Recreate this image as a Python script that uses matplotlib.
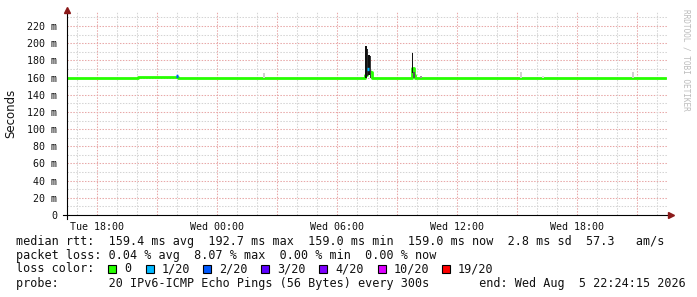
import matplotlib
matplotlib.use('Agg')
import matplotlib.pyplot as plt
from matplotlib.patches import Rectangle
from matplotlib.ticker import FixedLocator
import numpy as np

# hours relative to Tue 18:00
med_t = [-1.5, 2.05, 3.95, 4.05, 13.42, 13.50, 13.58, 13.67, 13.75, 15.75, 15.83, 15.92, 28.4]
med_ms = [159.0, 160.8, 161.2, 159.0, 163.0, 170.0, 168.0, 166.0, 159.0, 171.0, 163.0, 159.0, 159.0]

# median points with loss (coloured)
lossy_t = [3.95, 13.50]
lossy_ms = [161.4, 170.0]
lossy_col = ['#0059ff', '#00b8ff']

# smoke (min..max of pings)
smoke_t = [8.30, 13.40, 13.48, 13.56, 13.64, 15.73, 15.81, 16.17, 21.15, 22.25, 26.75]
smoke_lo = [159, 160, 162, 163, 160, 165, 160, 159, 159, 159, 159]
smoke_hi = [165, 197, 193, 186, 185, 188, 166, 162, 167, 162, 166]
smoke_col = ['#d0d0d0', '#111111', '#2a2a2a', '#111111', '#3a3a3a', '#111111',
             '#555555', '#999999', '#d0d0d0', '#dddddd', '#d0d0d0']

xtick_pos = [0, 6, 12, 18, 24]
xtick_lab = ['Tue 18:00', 'Wed 00:00', 'Wed 06:00', 'Wed 12:00', 'Wed 18:00']
ytick_pos = list(range(0, 221, 20))

loss_labels = ['0', '1/20', '2/20', '3/20', '4/20', '10/20', '19/20']
loss_colors = ['#26ff00', '#00b8ff', '#0059ff', '#5e00ff', '#7e00ff', '#dd00ff', '#ff0000']
loss_sq_x = [108, 146, 203, 261, 319, 378, 442]

line1 = 'median rtt:  159.4 ms avg  192.7 ms max  159.0 ms min  159.0 ms now  2.8 ms sd  57.3   am/s'
line2 = 'packet loss: 0.04 % avg  8.07 % max  0.00 % min  0.00 % now'
line4 = 'probe:       20 IPv6-ICMP Echo Pings (56 Bytes) every 300s       end: Wed Aug  5 22:24:15 2026'

W, H = 697, 297
fig = plt.figure(figsize=(W / 100, H / 100), dpi=100)
fig.patch.set_facecolor('white')
ax = fig.add_axes([67 / W, (H - 215) / H, 600 / W, 203 / H])
ax.set_xlim(-1.5, 28.5)
ax.set_ylim(0, 236.3)

mono = 'DejaVu Sans Mono'
pink = '#e8a8a8'
grey = '#d4d4d4'

# grid
for v in np.arange(10, 236, 20):
    ax.axhline(v, color=grey, lw=0.75, ls=(0, (1.4, 1.4)), zorder=0)
for v in ytick_pos[1:]:
    ax.axhline(v, color=pink, lw=0.75, ls=(0, (1.4, 1.4)), zorder=0)
for h in range(-1, 29):
    c = pink if h % 3 == 0 else grey
    ax.axvline(h, color=c, lw=0.75, ls=(0, (1.4, 1.4)), zorder=0)

# median
ax.step(med_t, med_ms, where='post', color='#26ff00', lw=2.0, zorder=2)
ax.hlines(lossy_ms, lossy_t, np.array(lossy_t) + 5 / 60, colors=lossy_col, lw=2.4, zorder=4)

# smoke
ax.bar(smoke_t, np.array(smoke_hi) - np.array(smoke_lo), bottom=smoke_lo,
       width=5 / 60, align='edge', color=smoke_col, lw=0, zorder=3)

for s in ax.spines.values():
    s.set_visible(False)

ax.xaxis.set_major_locator(FixedLocator(xtick_pos))
ax.set_xticklabels(xtick_lab)
ax.yaxis.set_major_locator(FixedLocator(ytick_pos))
ax.set_yticklabels(['0'] + ['%d m' % v for v in ytick_pos[1:]])
ax.tick_params(axis='both', length=0, labelsize=7.2, labelcolor='#111111')
ax.tick_params(axis='x', pad=5)
ax.tick_params(axis='y', pad=7)
for lab in ax.get_xticklabels() + ax.get_yticklabels():
    lab.set_family(mono)

# axes lines with arrows
ax.plot([-4 / 600, 1.004], [0, 0], color='black', lw=0.8, transform=ax.transAxes, clip_on=False, zorder=5)
ax.plot([0, 0], [-4 / 203, 1.01], color='black', lw=0.8, transform=ax.transAxes, clip_on=False, zorder=5)
ax.plot([1.007], [0], marker='>', ms=4, color='#8b1a1a', transform=ax.transAxes, clip_on=False, zorder=6)
ax.plot([0], [1.012], marker='^', ms=4, color='#8b1a1a', transform=ax.transAxes, clip_on=False, zorder=6)

fig.text(11 / W, 1 - 113 / H, 'Seconds', rotation=90, ha='center', va='center',
         fontsize=8.5, family='DejaVu Sans', color='#111111')
fig.text(686 / W, 1 - 60 / H, 'RRDTOOL / TOBI OETIKER', rotation=270, ha='center', va='center',
         fontsize=5.6, family=mono, color='#bbbbbb')

fs = 8.45
fig.text(16 / W, 1 - 241 / H, line1, family=mono, fontsize=fs, va='center', color='#111111')
fig.text(16 / W, 1 - 255 / H, line2, family=mono, fontsize=fs, va='center', color='#111111')
fig.text(16 / W, 1 - 269 / H, 'loss color:', family=mono, fontsize=fs, va='center', color='#111111')
for x, lab, col in zip(loss_sq_x, loss_labels, loss_colors):
    fig.add_artist(Rectangle((x / W, 1 - 273 / H), 8 / W, 8 / H, transform=fig.transFigure,
                             facecolor=col, edgecolor='black', lw=0.8))
    fig.text((x + 16) / W, 1 - 269 / H, lab, family=mono, fontsize=fs, va='center', color='#111111')
fig.text(16 / W, 1 - 283 / H, line4, family=mono, fontsize=fs, va='center', color='#111111')

fig.savefig('out.png', dpi=100, facecolor='white')
